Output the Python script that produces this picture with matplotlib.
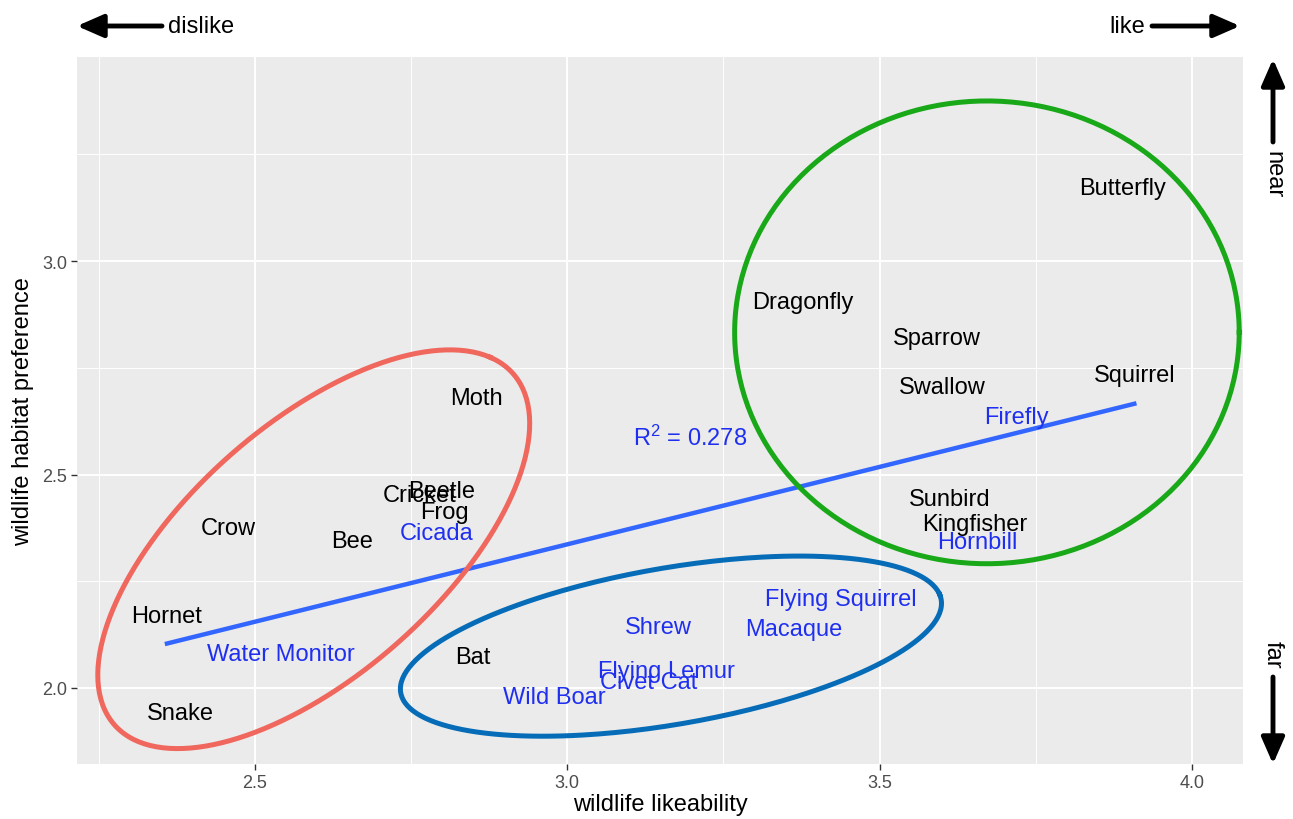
import numpy as np
import matplotlib.pyplot as plt

plt.rcParams['font.family'] = ['Liberation Sans', 'DejaVu Sans']

# wildlife survey: likeability vs habitat preference
near_names = ['Butterfly', 'Dragonfly', 'Sparrow', 'Swallow', 'Squirrel',
              'Firefly', 'Sunbird', 'Kingfisher', 'Hornbill']
near_x = [3.889, 3.377, 3.591, 3.601, 3.908, 3.719, 3.612, 3.652, 3.657]
near_y = [3.171, 2.904, 2.820, 2.705, 2.733, 2.635, 2.443, 2.384, 2.342]
near_blue = [False, False, False, False, False, True, False, False, True]

pest_names = ['Moth', 'Cricket', 'Beetle', 'Frog', 'Cicada', 'Crow', 'Bee',
              'Hornet', 'Water Monitor', 'Snake']
pest_x = [2.855, 2.764, 2.799, 2.804, 2.790, 2.457, 2.655, 2.359, 2.542, 2.380]
pest_y = [2.679, 2.452, 2.461, 2.412, 2.363, 2.375, 2.344, 2.169, 2.080, 1.941]
pest_blue = [False, False, False, False, True, False, False, False, True, False]

far_names = ['Bat', 'Shrew', 'Flying Squirrel', 'Macaque', 'Flying Lemur',
             'Civet Cat', 'Wild Boar']
far_x = [2.849, 3.146, 3.438, 3.362, 3.158, 3.130, 2.980]
far_y = [2.073, 2.143, 2.208, 2.138, 2.040, 2.014, 1.979]
far_blue = [False, True, True, True, True, True, True]

# group outlines: centre, semi-axes (data units), rotation in degrees
ell_x0 = [2.594, 3.166, 3.672]
ell_y0 = [2.325, 2.098, 2.833]
ell_a = [0.531, 0.447, 0.404]
ell_b = [0.236, 0.180, 0.542]
ell_angle = [57.9, 15.6, 0.0]
ell_colors = ['#F0675E', '#066CB8', '#18A818']

r2_text = '$\\mathregular{R^2}$ = 0.278'


def ellipse(x0, y0, a, b, angle, segments=300):
    t = np.linspace(0, 2 * np.pi, segments)
    th = np.deg2rad(angle)
    x = x0 + a * np.cos(t) * np.cos(th) - b * np.sin(t) * np.sin(th)
    y = y0 + a * np.cos(t) * np.sin(th) + b * np.sin(t) * np.cos(th)
    return x, y


fig = plt.figure(figsize=(12.93, 8.2), dpi=100)
ax = fig.add_axes([0.0596, 0.0671, 0.9017, 0.8622])
ax.set_facecolor('#EBEBEB')
for s in ax.spines.values():
    s.set_visible(False)

ax.set_xlim(2.215, 4.082)
ax.set_ylim(1.822, 3.478)
ax.set_xticks([2.5, 3.0, 3.5, 4.0])
ax.set_yticks([2.0, 2.5, 3.0])
ax.set_xticks([2.25, 2.75, 3.25, 3.75], minor=True)
ax.set_yticks([2.25, 2.75, 3.25], minor=True)
ax.set_xticklabels(['2.5', '3.0', '3.5', '4.0'])
ax.set_yticklabels(['2.0', '2.5', '3.0'])
ax.grid(which='major', color='white', lw=1.4)
ax.grid(which='minor', color='white', lw=0.7)
ax.set_axisbelow(True)
ax.tick_params(which='major', length=4, width=1, color='#333333',
               labelsize=13, labelcolor='#4D4D4D', pad=3)
ax.tick_params(which='minor', length=0)
ax.set_xlabel('wildlife likeability', fontsize=17, labelpad=2)
ax.set_ylabel('wildlife habitat preference', fontsize=17, labelpad=6)

# linear fit over all animals
all_x = np.array(near_x + pest_x + far_x)
all_y = np.array(near_y + pest_y + far_y)
slope, icpt = np.polyfit(all_x, all_y, 1)
fx = np.array([all_x.min(), all_x.max()])
ax.plot(fx, icpt + slope * fx, color='#3366FF', lw=3.2, zorder=2)

for x0, y0, a, b, ang, col in zip(ell_x0, ell_y0, ell_a, ell_b, ell_angle, ell_colors):
    ex, ey = ellipse(x0, y0, a, b, ang)
    ax.plot(ex, ey, color=col, lw=3.6, zorder=3)

for names, xs, ys, blue in [(near_names, near_x, near_y, near_blue),
                            (pest_names, pest_x, pest_y, pest_blue),
                            (far_names, far_x, far_y, far_blue)]:
    for nm, x, y, b in zip(names, xs, ys, blue):
        ax.text(x, y, nm, fontsize=17, ha='center', va='center',
                color='#1F2FF0' if b else 'black', zorder=4)

ax.text(3.197, 2.588, r2_text, fontsize=17, color='#1F2FF0',
        ha='center', va='center', zorder=4)

# direction arrows around the panel
W, H = 1293, 820
arrow = dict(arrowstyle='-|>,head_length=0.8,head_width=0.35', lw=3.5,
             color='black', shrinkA=0, shrinkB=0, mutation_scale=20)
fig.add_artist(plt.Annotation('', xy=(77 / W, 1 - 27 / H), xytext=(162 / W, 1 - 27 / H),
                              xycoords='figure fraction', arrowprops=arrow))
fig.text(168 / W, 1 - 27 / H, 'dislike', fontsize=17, ha='left', va='center')
fig.add_artist(plt.Annotation('', xy=(1240 / W, 1 - 27 / H), xytext=(1152 / W, 1 - 27 / H),
                              xycoords='figure fraction', arrowprops=arrow))
fig.text(1145 / W, 1 - 27 / H, 'like', fontsize=17, ha='right', va='center')
fig.add_artist(plt.Annotation('', xy=(1273 / W, 1 - 60 / H), xytext=(1273 / W, 1 - 143 / H),
                              xycoords='figure fraction', arrowprops=arrow))
fig.text(1273 / W, 1 - 175 / H, 'near', fontsize=17, ha='center', va='center', rotation=-90)
fig.add_artist(plt.Annotation('', xy=(1273 / W, 1 - 765 / H), xytext=(1273 / W, 1 - 678 / H),
                              xycoords='figure fraction', arrowprops=arrow))
fig.text(1273 / W, 1 - 655 / H, 'far', fontsize=17, ha='center', va='center', rotation=-90)

fig.savefig('out.png', dpi=100)
